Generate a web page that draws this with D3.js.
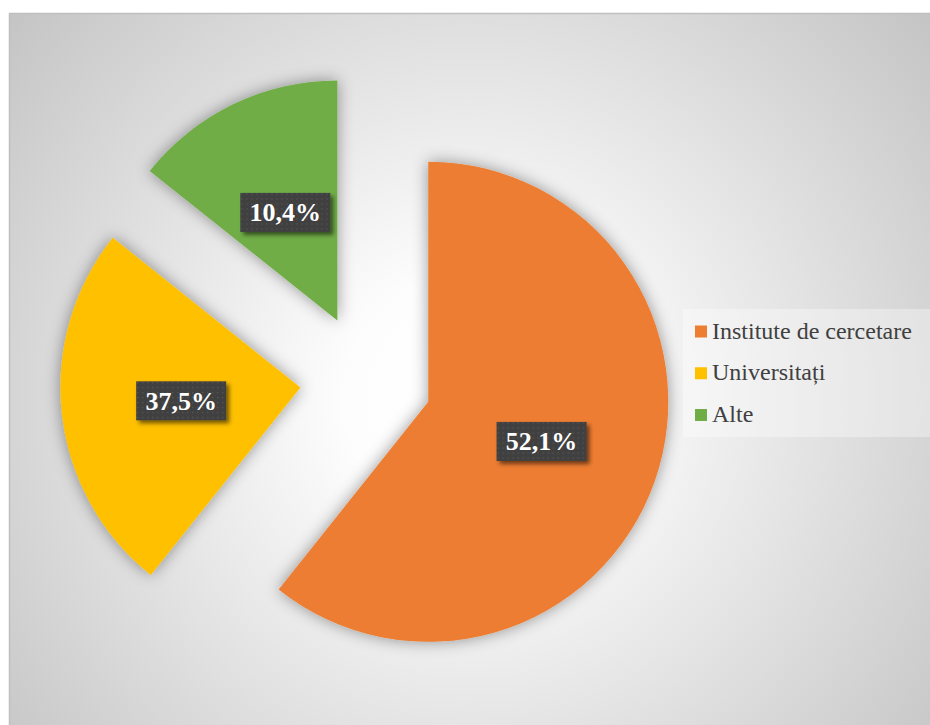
<!DOCTYPE html>
<html>
<head>
    <meta charset="utf-8">
    <style>
        body {
            margin: 0;
            background: #ffffff;
        }

        svg {
            display: block;
        }

        .legend text {
            font-family: "Liberation Serif", "Tinos", "DejaVu Serif", "Times New Roman", Times, serif;
            font-size: 24px;
            fill: #404040;
        }

        .labels text {
            font-family: "Liberation Serif", "Tinos", "DejaVu Serif", "Times New Roman", Times, serif;
            font-size: 26px;
            font-weight: bold;
            fill: #ffffff;
        }
    </style>
</head>
<body>
    <svg width="930" height="725"></svg>

<script src="https://d3js.org/d3.v7.min.js"></script>
<script>
    // data
    let categories = ["Institute de cercetare", "Universitați", "Alte"]
    let sliceValues = [17, 7, 4]          // slice sizes as drawn
    let labelTexts = ["52,1%", "37,5%", "10,4%"]   // data labels as printed
    let colors = ["#ED7D31", "#FFC000", "#70AD47"]

    let width = 930
    let height = 725
    let cx = 366, cy = 380
    let radius = 240
    let explode = 66

    let svg = d3.select("svg")
    let defs = svg.append("defs")

    // background radial gradient
    let grad = defs.append("radialGradient")
        .attr("id", "bg")
        .attr("gradientUnits", "userSpaceOnUse")
        .attr("cx", 470).attr("cy", 400).attr("r", 620)
    grad.append("stop").attr("offset", "0").attr("stop-color", "#ffffff")
    grad.append("stop").attr("offset", "0.2").attr("stop-color", "#fdfdfd")
    grad.append("stop").attr("offset", "1").attr("stop-color", "#c2c2c2")

    // soft shadow for slices
    let sh = defs.append("filter").attr("id", "sliceShadow")
        .attr("x", "-20%").attr("y", "-20%").attr("width", "140%").attr("height", "140%")
    sh.append("feDropShadow")
        .attr("dx", 0).attr("dy", 0)
        .attr("stdDeviation", 8)
        .attr("flood-color", "#000")
        .attr("flood-opacity", 0.4)

    let lsh = defs.append("filter").attr("id", "labelShadow")
        .attr("x", "-20%").attr("y", "-30%").attr("width", "150%").attr("height", "170%")
    lsh.append("feDropShadow")
        .attr("dx", 3).attr("dy", 3)
        .attr("stdDeviation", 2)
        .attr("flood-color", "#000")
        .attr("flood-opacity", 0.55)

    // dotted dark pattern for label boxes
    let pat = defs.append("pattern")
        .attr("id", "dots")
        .attr("patternUnits", "userSpaceOnUse")
        .attr("width", 5).attr("height", 5)
    pat.append("rect").attr("width", 5).attr("height", 5).attr("fill", "#3f3f3f")
    pat.append("rect").attr("x", 1).attr("y", 1).attr("width", 1.3).attr("height", 1.3).attr("fill", "#5a5a5a")

    // chart area
    svg.append("rect")
        .attr("x", 9.5).attr("y", 13.5)
        .attr("width", width).attr("height", height)
        .attr("fill", "url(#bg)")
        .attr("stroke", "#bfbfbf")
        .attr("stroke-width", 1.5)

    let pie = d3.pie().sort(null).value(d => d)
    let arcs = pie(sliceValues)

    let arc = d3.arc().innerRadius(0).outerRadius(radius)

    function offset(d) {
        let mid = (d.startAngle + d.endAngle) / 2
        return [Math.sin(mid) * explode, -Math.cos(mid) * explode]
    }

    let slices = svg.append("g")
        .attr("class", "slices")
        .attr("transform", `translate(${cx},${cy})`)

    slices.selectAll("path")
        .data(arcs)
        .join("path")
        .attr("d", arc)
        .attr("fill", (d, i) => colors[i])
        .attr("filter", "url(#sliceShadow)")
        .attr("transform", d => `translate(${offset(d)})`)

    // data labels
    let labels = svg.append("g")
        .attr("class", "labels")
        .attr("transform", `translate(${cx},${cy})`)
        .selectAll("g")
        .data(arcs)
        .join("g")
        .attr("transform", d => {
            let c = arc.centroid(d)
            let o = offset(d)
            return `translate(${c[0] + o[0]},${c[1] + o[1]})`
        })

    labels.append("rect")
        .attr("x", -45).attr("y", -19.5)
        .attr("width", 90).attr("height", 39)
        .attr("fill", "url(#dots)")
        .attr("filter", "url(#labelShadow)")

    labels.append("text")
        .attr("text-anchor", "middle")
        .attr("y", 9)
        .text((d, i) => labelTexts[i])

    // legend
    let legend = svg.append("g").attr("class", "legend")

    legend.append("rect")
        .attr("x", 683).attr("y", 309)
        .attr("width", 247).attr("height", 128)
        .attr("fill", "#ffffff")
        .attr("fill-opacity", 0.35)

    let ly = d3.scalePoint()
        .domain(categories)
        .range([338.5, 422])

    let items = legend.selectAll(".item")
        .data(categories)
        .join("g")
        .attr("class", "item")
        .attr("transform", d => `translate(0,${ly(d)})`)

    items.append("rect")
        .attr("x", 695).attr("y", -13)
        .attr("width", 12).attr("height", 12)
        .attr("fill", (d, i) => colors[i])

    items.append("text")
        .attr("x", 712)
        .text(d => d)
</script>
</body>
</html>
